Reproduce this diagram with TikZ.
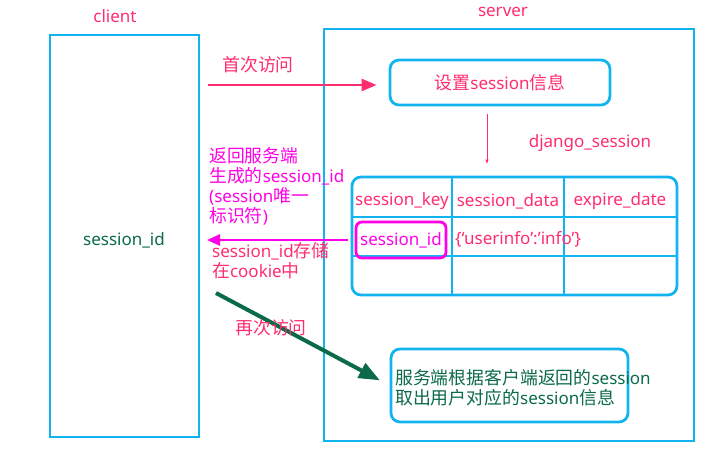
\documentclass[tikz,border=0pt]{standalone}
\usepackage{fontspec}
\setmainfont{Noto Sans}
\newfontfamily\zh[Scale=1.05]{Noto Sans CJK SC}
\usetikzlibrary{arrows.meta,positioning}
\definecolor{frameblue}{HTML}{12B4F0}
\definecolor{pinkred}{HTML}{FF2D6E}
\definecolor{magentared}{HTML}{FF00E6}
\definecolor{darkgreen}{HTML}{0B6A47}

\begin{document}
\begin{tikzpicture}[
        x=1pt, y=-1pt,
        every node/.style={font=\fontsize{17}{20}\selectfont, inner sep=0pt},
        frame/.style={draw=frameblue, line width=2.8pt},
        process/.style={frame, rounded corners=9pt},
        pinklabel/.style={text=pinkred},
        maglabel/.style={text=magentared},
        greenlabel/.style={text=darkgreen},
        line/.style={draw=pinkred, line width=2.5pt, -{Triangle[length=15pt,width=12pt]}},
        thinline/.style={draw=pinkred, line width=0.8pt, -{Triangle[length=4pt,width=3pt]}},
        backline/.style={draw=magentared, line width=2.5pt, -{Triangle[length=13pt,width=11pt]}},
        greenline/.style={draw=darkgreen, line width=4pt, -{Triangle[length=21pt,width=16pt]}}
    ]
        \useasboundingbox (0,0) rectangle (720,460);
        % client side
        \node[frame, minimum width=149pt, minimum height=402pt] (client) at (124.5,236) {};
        \node[pinklabel] (clientlabel) at (115,16) {client};
        \node[greenlabel] (sessionid) at (124,240) {session\_id};
        % server side
        \node[frame, minimum width=370pt, minimum height=412pt] (server) at (509,235) {};
        \node[pinklabel] (serverlabel) at (503,12) {server};
        \node[process, pinklabel, minimum width=220pt, minimum height=45pt] (setinfo) at (500,82.5) {{\zh 设置}session{\zh 信息}};
        \node[pinklabel] (dbname) at (590,143) {django\_session};
        % django_session table
        \node[process, minimum width=325pt, minimum height=118pt] (table) at (514.5,236) {};
        \draw[frame] (table.west |- 0,217) -- (table.east |- 0,217);
        \draw[frame] (table.west |- 0,256) -- (table.east |- 0,256);
        \draw[frame] (452,0 |- table.north) -- (452,0 |- table.south);
        \draw[frame] (564,0 |- table.north) -- (564,0 |- table.south);
        \node[pinklabel] (hkey) at (402,201) {session\_key};
        \node[pinklabel] (hdata) at (508,201) {session\_data};
        \node[pinklabel] (hexpire) at (620,201) {expire\_date};
        \node[draw=magentared, line width=2.8pt, rounded corners=6pt, minimum width=90pt, minimum height=36pt, maglabel] (sid) at (401,240) {session\_id};
        \node[pinklabel, anchor=west] (sdata) at (455,239) {\{‘userinfo’:’info’\}};
        \node[process, minimum width=237pt, minimum height=73pt] (lookup) at (509.5,385.5) {};
        \node[greenlabel, anchor=west, align=left] (lookuptext) at (395,388) {{\zh 服务端根据客户端返回的}session\\{\zh 取出用户对应的}session{\zh 信息}};
        % first visit
        \coordinate (firstfrom) at (208,85);
        \draw[line, shorten >=12pt] (firstfrom) -- (firstfrom -| setinfo.west);
        \node[pinklabel] (firstlabel) at (258,65) {\zh 首次访问};
        \draw[thinline, shorten <=8pt, shorten >=12pt] ([xshift=-13pt]setinfo.south) -- ([xshift=-13pt]setinfo.south |- table.north);
        % session_id back to client
        \coordinate (returnto) at (207,240);
        \draw[backline, shorten <=7pt] (sid.west) -- (returnto);
        \node[maglabel, anchor=north west, align=left] (returntext) at (209,147) {{\zh 返回服务端}\\{\zh 生成的}session\_id\\(session{\zh 唯一}\\{\zh 标识符})};
        \node[pinklabel, anchor=north west, align=left] (storetext) at (212,242) {session\_id{\zh 存储}\\{\zh 在}cookie{\zh 中}};
        % second visit
        \coordinate (againfrom) at (216,293);
        \draw[greenline, shorten >=11pt] (againfrom) -- (lookup.west);
        \node[pinklabel] (againlabel) at (271,328) {\zh 再次访问};
    \end{tikzpicture}
\end{document}
